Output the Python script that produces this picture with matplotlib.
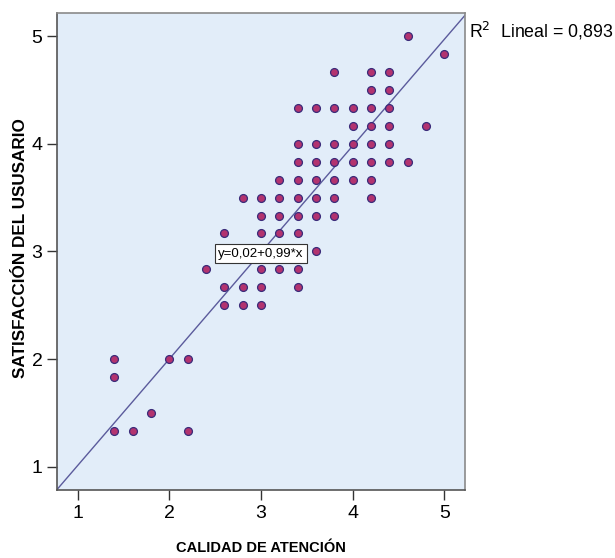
import numpy as np
import matplotlib; matplotlib.use("Agg")
import matplotlib.pyplot as plt

# points (x = calidad de atención, y = satisfacción)
calidad = [4.6, 5.0,
           3.8, 4.2, 4.4,
           4.2, 4.4,
           3.4, 3.6, 3.8, 4.0, 4.2, 4.4,
           4.0, 4.2, 4.4, 4.8,
           3.4, 3.6, 3.8, 4.0, 4.2, 4.4,
           3.4, 3.6, 3.8, 4.0, 4.2, 4.4, 4.6,
           3.2, 3.4, 3.6, 3.8, 4.0, 4.2,
           2.8, 3.0, 3.2, 3.4, 3.6, 3.8, 4.2,
           3.0, 3.2, 3.4, 3.6, 3.8,
           2.6, 3.0, 3.2, 3.4,
           3.6,
           2.4, 3.0, 3.2, 3.4,
           2.6, 2.8, 3.0, 3.4,
           2.6, 2.8, 3.0,
           1.4, 2.0, 2.2,
           1.4,
           1.8,
           1.4, 1.6, 2.2]
satisf = [5.0, 4.833,
          4.667, 4.667, 4.667,
          4.5, 4.5,
          4.333, 4.333, 4.333, 4.333, 4.333, 4.333,
          4.167, 4.167, 4.167, 4.167,
          4.0, 4.0, 4.0, 4.0, 4.0, 4.0,
          3.833, 3.833, 3.833, 3.833, 3.833, 3.833, 3.833,
          3.667, 3.667, 3.667, 3.667, 3.667, 3.667,
          3.5, 3.5, 3.5, 3.5, 3.5, 3.5, 3.5,
          3.333, 3.333, 3.333, 3.333, 3.333,
          3.167, 3.167, 3.167, 3.167,
          3.0,
          2.833, 2.833, 2.833, 2.833,
          2.667, 2.667, 2.667, 2.667,
          2.5, 2.5, 2.5,
          2.0, 2.0, 2.0,
          1.833,
          1.5,
          1.333, 1.333, 1.333]
intercept, slope = 0.02, 0.99
r2_text = "R$^2$  Lineal = 0,893"
eq_text = "y=0,02+0,99*x"
ticks = [1, 2, 3, 4, 5]

plt.rcParams['font.family'] = ['Liberation Sans', 'DejaVu Sans']
fig = plt.figure(figsize=(6.15, 5.58), dpi=100)
ax = fig.add_axes([0.0927, 0.1219, 0.6634, 0.855])
ax.set_facecolor("#e2edf9")
xlo, xhi = 0.776, 5.225
ylo, yhi = 0.784, 5.215
ax.set_xlim(xlo, xhi); ax.set_ylim(ylo, yhi)

xs = np.array([xlo, xhi])
ax.plot(xs, intercept + slope*xs, color="#5b5b9c", lw=1.0, zorder=2)
ax.scatter(calidad, satisf, s=32, c="#b3336f", edgecolors="#3a2b7a", linewidths=0.9, zorder=3)

ax.text(3.0, 2.98, eq_text, ha="center", va="center", fontsize=9.5,
        family=['Liberation Sans Narrow', 'Liberation Sans'],
        bbox=dict(boxstyle="square,pad=0.25", fc="white", ec="#333333", lw=0.8), zorder=4)
fig.text(0.763, 0.944, r2_text, fontsize=12.8, ha="left", va="center")

ax.set_xticks(ticks); ax.set_yticks(ticks)
ax.tick_params(direction="out", length=7, width=1, colors="#333333", labelsize=14, labelcolor="black",
               top=False, right=False)
for sp in ax.spines.values():
    sp.set_color("#8a8a8a"); sp.set_linewidth(1.2)
ax.spines["bottom"].set_color("#555555"); ax.spines["left"].set_color("#555555")

fig.text(0.4245, 0.006, "CALIDAD DE ATENCIÓN", ha="center", va="bottom", fontsize=10.5, fontweight="bold")
fig.text(0.034, 0.5556, "SATISFACCIÓN DEL USUSARIO", ha="center", va="center", rotation=90,
         fontsize=12.3, fontweight="bold")

fig.savefig("out.png", dpi=100)
